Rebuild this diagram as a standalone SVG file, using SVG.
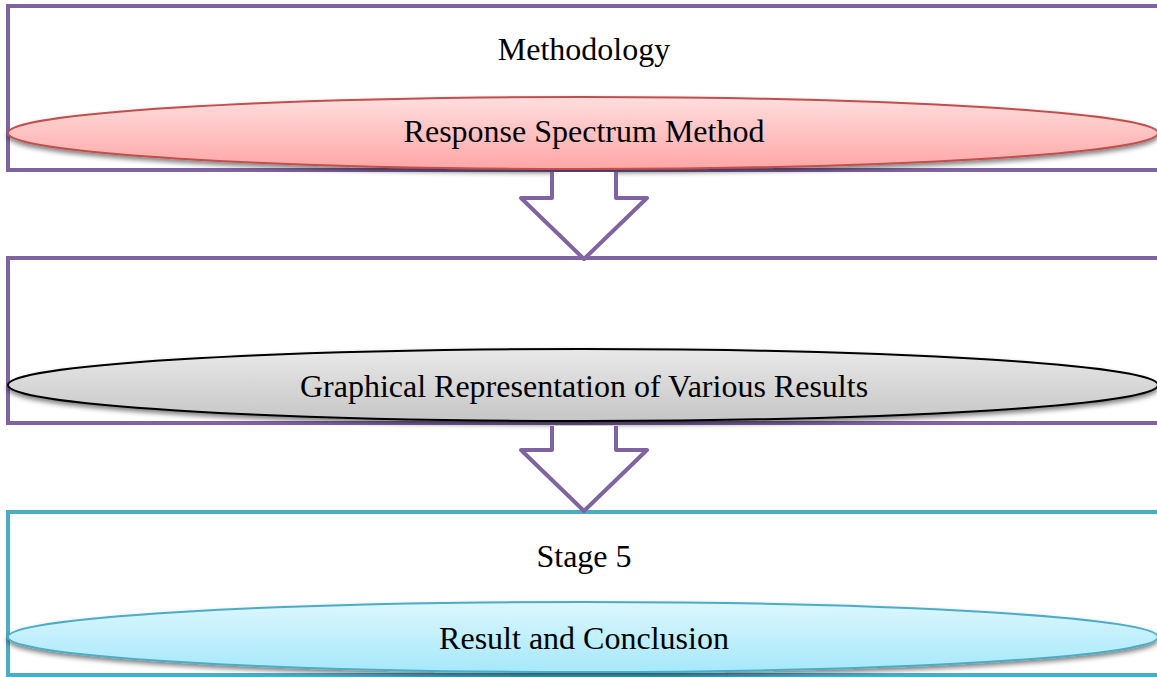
<svg xmlns="http://www.w3.org/2000/svg" width="1157" height="677" viewBox="0 0 1157 677">
<style>
.txt{font-family:"Liberation Serif","Times New Roman",serif;font-size:32px;fill:#000;text-anchor:middle}
.box{fill:#fff;stroke-width:4}
.arrow{fill:#fff;stroke:#8064A2;stroke-width:4;stroke-linejoin:round}
</style>
<defs>
<linearGradient id="gRed" x1="0" y1="0" x2="0" y2="1"><stop offset="0" stop-color="#FFDEDE"/><stop offset="1" stop-color="#FFA6A6"/></linearGradient>
<linearGradient id="gGray" x1="0" y1="0" x2="0" y2="1"><stop offset="0" stop-color="#E9E9E9"/><stop offset="1" stop-color="#C6C6C6"/></linearGradient>
<linearGradient id="gCyan" x1="0" y1="0" x2="0" y2="1"><stop offset="0" stop-color="#DDF7FD"/><stop offset="1" stop-color="#A6E8FB"/></linearGradient>
<filter id="sh" x="-5%" y="-30%" width="110%" height="170%">
<feGaussianBlur in="SourceAlpha" stdDeviation="2.5"/>
<feOffset dx="0" dy="3" result="b"/>
<feComponentTransfer><feFuncA type="linear" slope="0.5"/></feComponentTransfer>
<feMerge><feMergeNode/><feMergeNode in="SourceGraphic"/></feMerge>
</filter>
</defs>
<rect width="1157" height="677" fill="#fff"/>
<g id="stage-methodology">
<rect class="box" x="8" y="6" width="1200" height="164" stroke="#8064A2"/>
<text class="txt" x="584" y="60">Methodology</text>
<ellipse cx="583" cy="133" rx="575" ry="36" fill="url(#gRed)" stroke="#C0504D" stroke-width="2" filter="url(#sh)"/>
<text class="txt" x="584" y="142">Response Spectrum Method</text>
</g>
<g id="stage-results">
<rect class="box" x="8" y="258" width="1200" height="165" stroke="#8064A2"/>
<ellipse cx="583" cy="385" rx="575" ry="36" fill="url(#gGray)" stroke="#000" stroke-width="2" filter="url(#sh)"/>
<text class="txt" x="584" y="397">Graphical Representation of Various Results</text>
</g>
<g id="stage-5">
<rect class="box" x="8" y="512" width="1200" height="163" stroke="#4BACC6"/>
<text class="txt" x="584" y="567">Stage 5</text>
<ellipse cx="583" cy="637" rx="575" ry="35" fill="url(#gCyan)" stroke="#4BACC6" stroke-width="2" filter="url(#sh)"/>
<text class="txt" x="584" y="649">Result and Conclusion</text>
</g>
<g id="connectors">
<path class="arrow" d="M552,172 V198 H521 L584,259 L647,198 H616 V172"/>
<path class="arrow" d="M552,426 V450 H521 L584,511 L647,450 H616 V426"/>
</g>
</svg>
